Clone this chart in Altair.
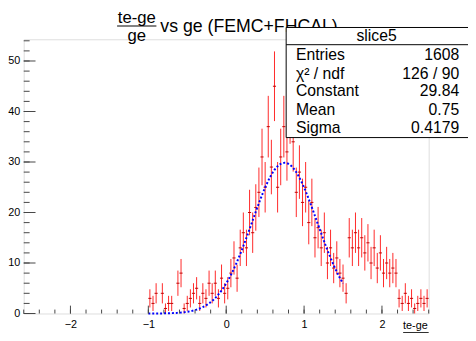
import altair as alt
import pandas as pd
import numpy as np

# ---------------- data ----------------
bin_low = -1.0
bin_width = 0.04
counts = [3, 2, 4, 0, 4, 1, 2, 2, 0, 6,
          8, 1, 2, 3, 4, 5, 2, 4, 3, 6,
          4, 6, 3, 7, 4, 5, 8, 11, 7, 13,
          16, 13, 20, 16, 21, 24, 31, 25, 37, 29,
          45, 25, 31, 37, 32, 40, 34, 24, 28, 22,
          25, 18, 22, 15, 17, 13, 16, 10, 13, 9,
          11, 8, 7, 4, 15, 13, 16, 13, 15, 12,
          14, 10, 13, 9, 12, 8, 10, 8, 9, 8,
          3, 2, 4, 2, 3, 1, 2, 3, 2, 3]
errors = [1.8, 1.5, 2.0, 0, 2.0, 1.0, 1.5, 1.5, 0, 2.5,
          2.8, 1.0, 1.5, 1.8, 2.0, 2.2, 1.5, 2.0, 1.8, 2.5,
          2.0, 2.5, 1.8, 2.7, 2.0, 2.2, 2.8, 3.3, 2.7, 3.6,
          4.0, 3.6, 4.5, 4.0, 4.6, 4.9, 5.6, 5.0, 6.1, 5.4,
          6.9, 5.0, 5.6, 6.1, 5.7, 6.4, 5.9, 4.9, 5.3, 4.7,
          5.0, 4.3, 4.7, 3.9, 4.1, 3.6, 4.0, 3.2, 3.6, 3.0,
          3.3, 2.8, 2.7, 2.0, 3.9, 3.6, 4.0, 3.6, 3.9, 3.5,
          3.7, 3.2, 3.6, 3.0, 3.5, 2.8, 3.2, 2.8, 3.0, 2.8,
          1.8, 1.5, 2.0, 1.5, 1.8, 1.0, 1.5, 1.8, 1.5, 1.8]

fit_constant = 29.84
fit_mean = 0.75
fit_sigma = 0.4179
fit_range = [-1.0, 1.5]

x_major = [-2, -1, 0, 1, 2]
x_minor = [-2.6, -2.4, -2.2, -2.0, -1.8, -1.6, -1.4, -1.2, -1.0, -0.8, -0.6, -0.4, -0.2,
           0.0, 0.2, 0.4, 0.6, 0.8, 1.0, 1.2, 1.4, 1.6, 1.8, 2.0, 2.2, 2.4, 2.6]
y_major = [0, 10, 20, 30, 40, 50]
y_minor = [0, 2, 4, 6, 8, 10, 12, 14, 16, 18, 20, 22, 24, 26, 28, 30, 32, 34, 36, 38,
           40, 42, 44, 46, 48, 50, 52, 54]

stats_title = "slice5"
stats_names = ["Entries", "χ² / ndf", "Constant", "Mean", "Sigma"]
stats_values = ["1608", "126 / 90", "29.84", "0.75", "0.4179"]

# ---------------- build table ----------------
centers = bin_low + bin_width * (np.arange(len(counts)) + 0.5)
df = pd.DataFrame({"x": centers, "v": counts, "e": errors})
df = df[df.v > 0].copy()
df["lo"] = (df.v - df.e).clip(lower=0)
df["hi"] = df.v + df.e
df["x1"] = df.x - bin_width / 2
df["x2"] = df.x + bin_width / 2

W, H = 412, 279
FONT = "Liberation Sans"
xs = alt.Scale(domain=[-2.6, 2.6], nice=False, zero=False)
ys = alt.Scale(domain=[0, 54.3], nice=False, zero=True)
xax = alt.Axis(values=x_major, ticks=False, tickSize=0, domain=False, grid=False,
               labelFontSize=11, labelFont=FONT, labelColor="black", labelPadding=5,
               title=None, format="d")
yax = alt.Axis(values=y_major, ticks=False, tickSize=0, domain=False, grid=False,
               labelFontSize=11, labelFont=FONT, labelColor="black", labelPadding=4,
               title=None)

vbars = alt.Chart(df).mark_rule(color="#ff0000", strokeWidth=1, opacity=0.85).encode(
    x=alt.X("x:Q", scale=xs, axis=xax),
    y=alt.Y("lo:Q", scale=ys, axis=yax),
    y2="hi:Q",
)
hbars = alt.Chart(df).mark_rule(color="#c00000", strokeWidth=1).encode(
    x=alt.X("x1:Q", scale=xs, axis=xax), x2="x2:Q",
    y=alt.Y("v:Q", scale=ys, axis=yax),
)

fit = alt.Chart(alt.sequence(fit_range[0], fit_range[1] + 0.001, 0.01, as_="fx")).transform_calculate(
    fy=f"{fit_constant}*exp(-0.5*pow((datum.fx-{fit_mean})/{fit_sigma},2))"
).mark_line(color="#0000ff", strokeWidth=2, strokeDash=[2, 2]).encode(
    x=alt.X("fx:Q", scale=xs, axis=xax),
    y=alt.Y("fy:Q", scale=ys, axis=yax),
)

tick_col = "#444444"
xmaj = alt.Chart(pd.DataFrame({"t": x_major})).mark_rule(color=tick_col).encode(
    x=alt.X("t:Q", scale=xs, axis=xax), y=alt.value(H), y2=alt.value(H - 8))
xmin = alt.Chart(pd.DataFrame({"t": x_minor})).mark_rule(color=tick_col).encode(
    x=alt.X("t:Q", scale=xs, axis=xax), y=alt.value(H), y2=alt.value(H - 4))
ymaj = alt.Chart(pd.DataFrame({"t": y_major})).mark_rule(color=tick_col).encode(
    y=alt.Y("t:Q", scale=ys, axis=yax), x=alt.value(0), x2=alt.value(12))
ymin = alt.Chart(pd.DataFrame({"t": y_minor})).mark_rule(color=tick_col).encode(
    y=alt.Y("t:Q", scale=ys, axis=yax), x=alt.value(0), x2=alt.value(6))

one = pd.DataFrame({"a": [0]})


def txt(s, x, y, size, align="left", baseline="middle"):
    return alt.Chart(one).mark_text(text=s, font=FONT, fontSize=size, align=align,
                                    baseline=baseline, color="black").encode(
        x=alt.value(x), y=alt.value(y))


def line(x1, x2, y, color="black"):
    return alt.Chart(one).mark_rule(color=color, strokeWidth=1).encode(
        x=alt.value(x1), x2=alt.value(x2), y=alt.value(y))


# title
title_layers = [
    txt("te-ge", 115, -22, 17, "center"),
    line(95, 135, -13.5),
    txt("ge", 115, -3, 17, "center"),
    txt("vs ge (FEMC+FHCAL)", 139, -12, 18, "left"),
]

# x axis title (fraction)
xt_layers = [
    txt("te-ge", 411, 292, 11, "right"),
    line(386, 412, 298.5),
]

# stats box
box = alt.Chart(one).mark_rect(fill="white", stroke="black", strokeWidth=1).encode(
    x=alt.value(267), x2=alt.value(480), y=alt.value(-12), y2=alt.value(100))
stats_layers = [box, line(267, 480, 5.5), txt(stats_title, 359, -3, 16, "center")]
row_y = [16, 35, 53, 72, 90]
for name, val, yy in zip(stats_names, stats_values, row_y):
    stats_layers.append(txt(name, 277, yy, 16, "left"))
    stats_layers.append(txt(val, 443, yy, 16, "right"))

chart = alt.layer(
    vbars, hbars, fit, xmin, xmaj, ymin, ymaj, *title_layers, *xt_layers, *stats_layers
).properties(
    width=W, height=H,
    padding={"left": 16, "top": 29, "right": 40, "bottom": 17},
    autosize=alt.AutoSizeParams(type="none"),
).configure_view(stroke="#444444", strokeWidth=1).configure(background="white")

chart.save("out.html", embed_options={"renderer": "svg", "actions": False})
